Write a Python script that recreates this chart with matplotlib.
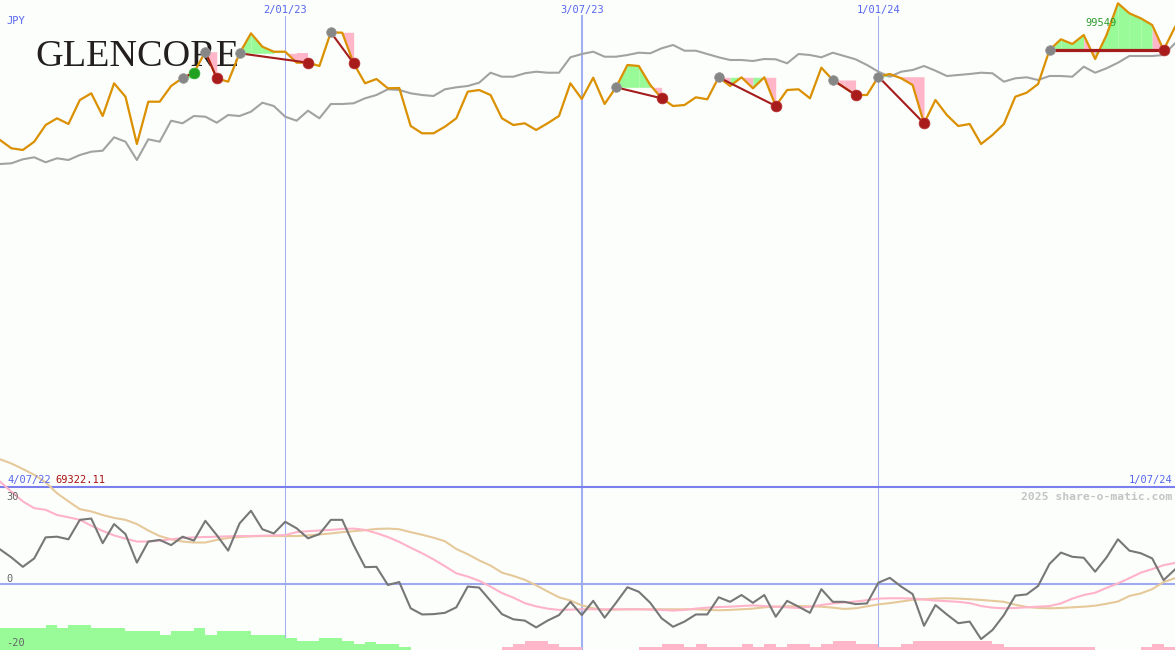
import matplotlib
matplotlib.use("Agg")
import matplotlib.pyplot as plt
import matplotlib.transforms as mtransforms
import pandas as pd

W, H, DPI = 1175, 650, 100

# ---------------- data ----------------
dates = pd.date_range("2022-07-11", periods=104, freq="7D")

# price line (relative units)
price = [60, 51.7, 50, 58.3, 75, 81.7, 76, 100, 106.7, 84,
         116.7, 103.3, 56, 98.3, 98.3, 114, 122, 127.3, 148.3, 121.7,
         118.3, 146.7, 166.7, 153.3, 148.3, 148.3, 137.3, 137.3, 134, 167.7,
         167.3, 136.7, 116.7, 121, 111.7, 112,
         74, 66.7, 66.7, 73.3, 81.7, 108.3, 110, 105, 81.7, 75,
         76.7, 70, 76.7, 84, 116.7, 101, 122.3, 96, 112.7, 135,
         134, 115, 101.7, 94, 95, 102.7, 100.7, 122.7, 114, 122.7,
         111.7, 122.7, 94, 110, 110.7,
         101.7, 132.3, 120, 112.7, 105, 105, 123.3, 126, 121.7, 115,
         76.7, 100, 85, 74, 76, 56, 65, 76, 103.3, 107.3,
         116, 150, 160.7, 156, 165, 141, 165, 196.7, 186.7, 181.7,
         175, 150, 173]

# grey comparison line
relative = [36, 36.7, 40.7, 42.7, 37.7, 41.7, 40, 45, 48.3, 49.3,
            62.7, 58.3, 40, 60.7, 58.3, 79.3, 76.7, 84, 83.3, 77.3,
            85, 84, 88.3, 97.3, 94, 83.3, 79.3, 89.3, 81.7, 96,
            96, 96.7, 101.7, 105, 110.7, 110,
            106.7, 105, 104, 110.7, 112.7, 114, 117.3, 127.3, 123.3, 123.3,
            126.7, 128.3, 127.3, 127.3, 142.7, 146, 148.3, 143.3, 143.3, 145,
            147.3, 146.7, 151.7, 155, 149.3, 149.3, 146, 142.7, 140, 140,
            139, 141, 140.7, 136.7, 146,
            145, 142.7, 147.3, 144, 140.7, 135, 128.3, 123.3, 128.3, 130,
            134, 129.3, 124, 125, 126, 127.3, 126.7, 118.3, 121.7, 122.7,
            120, 124, 124, 123.3, 133.3, 127.3, 131.7, 137.3, 144, 144,
            144, 145, 156.7]

# lower panel
oscillator = [10.7, 8.2, 5.3, 7.9, 14.4, 14.6, 13.8, 19.8, 20.2, 12.6,
              18.5, 15.4, 6.6, 13.1, 13.6, 12.0, 14.6, 13.4, 19.5, 15.1,
              10.3, 18.7, 22.6, 16.9, 15.6, 19.2, 17.2, 14.1, 15.4, 19.8,
              19.8, 12.0, 5.2, 5.3, -0.3, 0.6, -7.5, -9.4, -9.3, -8.9,
              -7.2, -0.8, -1.1, -5.2, -9.3, -10.9, -11.3, -13.4, -11.3, -9.6,
              -5.5, -9.6, -5.2, -10.4, -5.8, -1.0, -2.4, -5.8, -10.6, -13.2,
              -11.6, -9.4, -9.4, -4.1, -5.5, -3.4, -5.8, -3.4, -10.1, -5.2,
              -7.0, -8.9, -1.6, -5.5, -5.5, -6.2, -6.0, 0.4, 1.9, -0.8,
              -3.1, -12.9, -6.5, -9.4, -12.1, -11.6, -17.0, -14.2, -9.6, -3.6,
              -3.2, -0.6, 6.2, 9.7, 8.4, 8.1, 3.8, 8.2, 13.8, 10.3,
              9.5, 7.9, 1.2, 4.5]

osc_fast = [31.6, 28.5, 25.5, 23.4, 22.9, 21.3, 20.6, 19.8, 18.0, 16.4,
            15.0, 14.0, 13.1, 13.1, 13.4, 13.8, 14.2, 14.4, 14.5, 14.6,
            14.7, 14.8, 14.8, 14.9, 15.0, 15.1, 16.0, 16.3, 16.5, 16.7,
            17.0, 17.1, 16.7, 15.7, 14.5, 13.0, 11.2, 9.5, 7.6, 5.5,
            3.3, 2.3, 1.0, -0.8, -2.8, -4.2, -5.9, -6.9, -7.6, -8.0,
            -7.9, -7.8, -7.8, -7.8, -7.8, -7.8, -7.8, -7.9, -8.0, -8.2,
            -8.0, -7.6, -7.3, -7.1, -7.0, -6.8, -6.6, -6.8, -7.0, -7.2,
            -7.4, -7.0, -6.5, -6.0, -5.7, -5.4, -5.0, -4.5, -4.4, -4.4,
            -4.5, -4.8, -5.1, -5.3, -5.5, -5.9, -6.8, -7.3, -7.5, -7.4,
            -7.2, -7.0, -6.8, -6.0, -4.5, -3.4, -2.7, -1.2, 0.2, 1.8,
            3.5, 4.6, 5.8, 6.5]

osc_slow = [38.5, 37.2, 35.5, 33.7, 31.4, 28.0, 25.5, 23.1, 22.4, 21.3,
            20.4, 19.8, 18.5, 16.5, 14.8, 13.8, 13.1, 12.8, 12.8, 13.6,
            14.2, 14.5, 14.7, 14.8, 14.8, 14.8, 14.8, 15.0, 15.3, 15.6,
            16.0, 16.3, 16.6, 17.0, 17.1, 16.9, 16.0, 15.2, 14.3, 13.2,
            10.8, 9.2, 7.3, 5.7, 3.5, 2.5, 1.3, -0.4, -2.3, -4.1,
            -5.1, -6.6, -7.5, -8.0, -7.9, -7.8, -7.8, -7.8, -7.8, -7.8,
            -7.8, -7.8, -8.0, -8.1, -8.0, -7.8, -7.6, -7.2, -7.0, -6.9,
            -6.8, -6.9, -7.0, -7.3, -7.7, -7.5, -6.9, -6.3, -5.9, -5.4,
            -4.9, -4.7, -4.5, -4.4, -4.5, -4.7, -4.9, -5.2, -5.5, -6.4,
            -7.1, -7.4, -7.5, -7.4, -7.2, -7.0, -6.7, -6.1, -5.4, -3.7,
            -2.9, -1.6, 0.6, 1.8]

histogram = [6.9, 6.9, 6.9, 6.9, 7.7, 6.9, 7.7, 7.7, 6.9, 6.9,
             6.9, 5.9, 5.9, 5.9, 4.6, 5.9, 5.9, 6.9, 4.6, 5.9,
             5.9, 5.9, 4.6, 4.6, 4.6, 3.6, 2.8, 2.8, 3.6, 3.6,
             2.8, 1.9, 2.4, 1.9, 1.9, 0.8, 0, 0, 0, 0,
             0, 0, 0, 0, -0.8, -1.9, -2.8, -2.8, -1.9, -0.8,
             -0.8, 0, 0, 0, 0, 0, -0.8, -0.8, -1.9, -1.9,
             -0.8, -1.9, -0.8, -0.8, -0.8, -1.9, -0.8, -1.9, -0.8, -1.9,
             -1.9, -0.8, -1.9, -2.8, -2.8, -1.9, -1.9, -0.8, -0.8, -1.9,
             -2.8, -2.8, -2.8, -2.8, -2.8, -2.8, -2.8, -1.9, -0.8, -0.8,
             -0.8, -0.8, -0.8, -0.8, -0.8, -0.8, 0, 0, 0, 0,
             -0.8, -1.9, -0.8, 0]

# trades: entry / exit week index, result, colour of each weekly segment
trade_entry = [16, 18, 21, 29, 54, 63, 73, 77, 92]
trade_exit = [17, 19, 27, 31, 58, 68, 75, 81, 102]
trade_gain = [True, False, False, False, False, False, False, False, False]
trade_fill = ["G", "P", "GGGGPP", "PP", "GGGP", "PGPGP", "PP", "GPPP", "GGGPGGGGGP"]

year_lines = ["2023-01-02", "2023-07-03", "2024-01-01"]
year_labels = ["2/01/23", "3/07/23", "1/01/24"]
start_label, end_label = "4/07/22", "1/07/24"
start_value = "69322.11"
peak_value = "99549"
currency = "JPY"
osc_ticks = [30, 0, -20]

# ---------------- styles ----------------
BG = "#fcfefc"
ORANGE = "#da9000"
GREY = "#a2a2a2"
GREEN_FILL = "#98fb98"
PINK_FILL = "#ffb6c8"
TRADE_RED = "#a51c1c"
BLUE = "#5566ee"
MONO = "DejaVu Sans Mono"

fig = plt.figure(figsize=(W / DPI, H / DPI), dpi=DPI, facecolor=BG)
ax = fig.add_axes([0, 0, 1, 1])
axb = fig.add_axes([0, 0, 1, 1], sharex=ax)
for a in (ax, axb):
    a.set_axis_off()
    a.patch.set_visible(False)

ax.set_xlim(dates[0], dates[-1])
ax.set_ylim(-450, 200)
axb.set_ylim(-20.37, 180.25)

# logo
fig.text(35 / W, 1 - 65.5 / H, "GLENCORE", family="Liberation Serif", size=27.5,
         color="#231f20", ha="left", va="baseline", zorder=-1)

# vertical date lines + labels
xt = mtransforms.blended_transform_factory(ax.transData, ax.transAxes)
for d, lab, lw in zip(year_lines, year_labels, [0.75, 1.5, 0.75]):
    t = pd.Timestamp(d)
    ax.axvline(t, ymin=0, ymax=1 - 16 / H, color="#a0b0f0", lw=lw, zorder=0.5)
    ax.text(t, 1 - 13.3 / H, lab, transform=xt, ha="center", va="baseline",
            family=MONO, size=7.5, color=BLUE)

# trade fills
for e, x, segs in zip(trade_entry, trade_exit, trade_fill):
    level = price[e]
    for j, c in zip(range(e, x), segs):
        ax.fill_between(dates[j:j + 2], level, price[j:j + 2],
                        color=GREEN_FILL if c == "G" else PINK_FILL,
                        lw=0, zorder=1)

ax.plot(dates, relative, color=GREY, lw=1.5, zorder=2)
ax.plot(dates, price, color=ORANGE, lw=1.6, zorder=3)

for e, x, g in zip(trade_entry, trade_exit, trade_gain):
    lw = 2.3 if x - e > 8 else 1.5
    ax.plot([dates[e], dates[x]], [price[e], price[x]], color=TRADE_RED, lw=lw,
            zorder=4, solid_capstyle="butt")
    ax.plot(dates[e], price[e], "o", ms=7, color="#868686", mec="#9a9a9a", mew=0.5, zorder=5)
    ax.plot(dates[x], price[x], "o", ms=7.8,
            color="#22a022" if g else "#a81c1c",
            mec="#33b033" if g else "#b83030", mew=0.5, zorder=5)

# lower panel
bar_col = [GREEN_FILL if v > 0 else PINK_FILL for v in histogram]
axb.bar(dates, [abs(v) for v in histogram], width=7, align="edge",
        bottom=axb.get_ylim()[0], color=bar_col, lw=0, zorder=1)
axb.axhline(30, color="#7b7fee", lw=1.5, zorder=2)
axb.axhline(0, color="#a0aaf0", lw=1.5, zorder=2)
axb.plot(dates, osc_slow, color="#e6c99a", lw=1.5, zorder=3)
axb.plot(dates, osc_fast, color="#ffb3c9", lw=1.5, zorder=3)
axb.plot(dates, oscillator, color="#777777", lw=1.5, zorder=4)

# texts
def fxy(x, y):
    return x / W, 1 - y / H

fig.text(*fxy(6, 24.5), currency, family=MONO, size=7.5, color=BLUE, va="baseline")
fig.text(*fxy(1085, 26), peak_value, family=MONO, size=7.5, color="#2e9a2e", va="baseline")
fig.text(*fxy(7, 483), start_label, family=MONO, size=7.5, color=BLUE, va="baseline")
fig.text(*fxy(55, 483), start_value, family=MONO, size=7.5, color="#a81010", va="baseline")
fig.text(*fxy(1172, 483), end_label, family=MONO, size=7.5, color=BLUE, va="baseline", ha="right")
fig.text(*fxy(1172, 500), "2025 share-o-matic.com", family=MONO, size=8.2,
         weight="bold", color="#c4c4c4", va="baseline", ha="right")
for v, yb in zip(osc_ticks, [500, 581.7, 646]):
    fig.text(*fxy(6, yb), str(v), family=MONO, size=7.5, color="#666666", va="baseline")

fig.savefig("out.png", dpi=DPI, facecolor=BG)
